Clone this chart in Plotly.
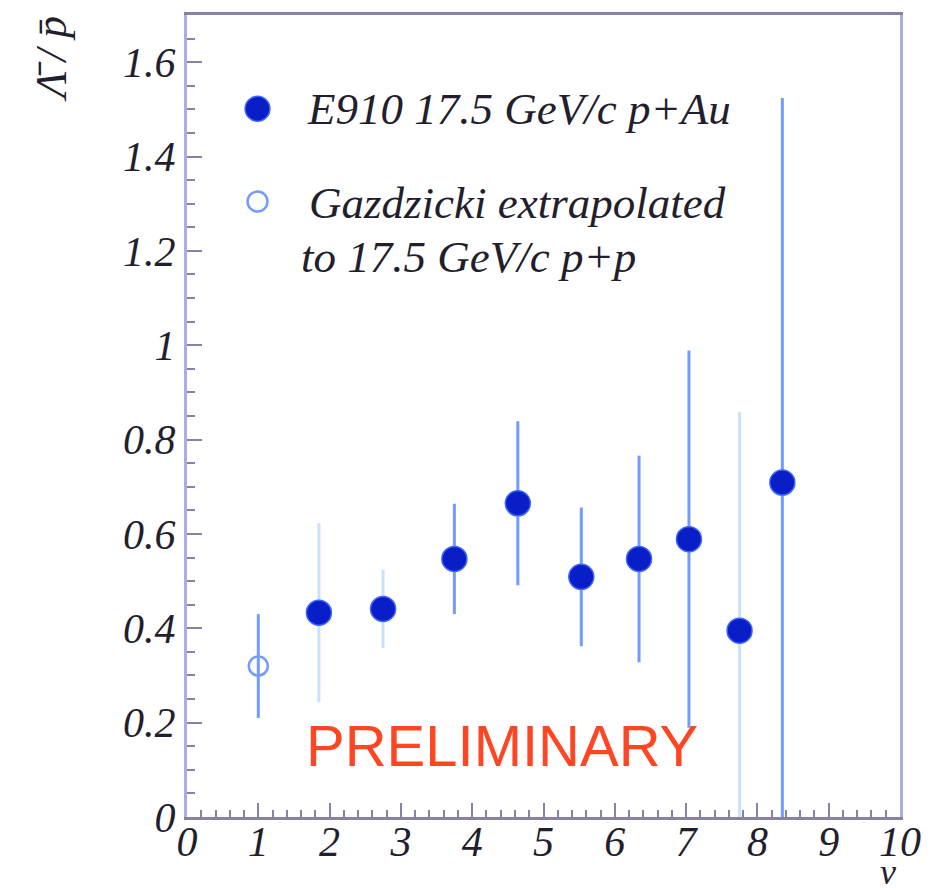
import plotly.graph_objects as go

# Data
nu_pau = [1.85, 2.75, 3.75, 4.64, 5.53, 6.34, 7.04, 7.75, 8.35]
ratio_pau = [0.433, 0.441, 0.547, 0.665, 0.509, 0.547, 0.589, 0.395, 0.709]
err_pau = [0.19, 0.083, 0.117, 0.174, 0.147, 0.219, 0.40, 0.464, 0.815]

nu_pp = [1.0]
ratio_pp = [0.32]
err_pp = [0.11]

x_ticks = list(range(0, 11))
y_ticks = [0, 0.2, 0.4, 0.6, 0.8, 1.0, 1.2, 1.4, 1.6]
y_ticklabels = ["0", "0.2", "0.4", "0.6", "0.8", "1", "1.2", "1.4", "1.6"]

legend_labels = ["E910 17.5 GeV/c p+Au", "Gazdzicki extrapolated<br>to 17.5 GeV/c p+p"]

# ---- styles ----
DARK = "rgb(10,30,200)"
BAR = "rgb(115,155,255)"
BAR_LIGHT = "rgb(200,225,255)"
LIGHT_BAR_POINTS = {0, 1, 7}   # points whose error bars look paler in the reference
AXIS = "rgb(135,130,165)"
SERIF = "Liberation Serif"
TEXT = "rgb(35,30,45)"

fig = go.Figure()

fig.add_trace(go.Scatter(
    x=nu_pp, y=ratio_pp, mode="markers",
    marker=dict(symbol="circle-open", size=19, color=BAR, line=dict(width=2.5, color=BAR)),
    error_y=dict(type="data", array=err_pp, visible=True, color=BAR, thickness=3, width=0),
    showlegend=False,
))

for light in (True, False):
    idx = [i for i in range(len(nu_pau)) if (i in LIGHT_BAR_POINTS) == light]
    fig.add_trace(go.Scatter(
        x=[nu_pau[i] for i in idx], y=[ratio_pau[i] for i in idx], mode="markers",
        marker=dict(symbol="circle", size=25, color=DARK, line=dict(width=1.5, color="rgb(60,100,255)")),
        error_y=dict(type="data", array=[err_pau[i] for i in idx], visible=True,
                     color=BAR_LIGHT if light else BAR, thickness=3, width=0),
        showlegend=False,
    ))

tickfont = dict(family=SERIF, size=42, color=TEXT, style="italic")

fig.update_xaxes(
    range=[0, 10], tickvals=x_ticks, ticktext=[str(v) for v in x_ticks],
    ticks="inside", ticklen=14, tickwidth=2, tickcolor=AXIS,
    minor=dict(dtick=0.2, ticks="inside", ticklen=7, tickwidth=2, tickcolor=AXIS),
    showline=True, linecolor=AXIS, linewidth=3, mirror=True,
    showgrid=False, zeroline=False, tickfont=tickfont, ticklabelstandoff=-14,
)
fig.update_yaxes(
    range=[0, 1.7], tickvals=y_ticks, ticktext=y_ticklabels,
    ticks="inside", ticklen=15, tickwidth=2, tickcolor=AXIS,
    minor=dict(dtick=0.05, ticks="inside", ticklen=8, tickwidth=2, tickcolor=AXIS),
    showline=True, linecolor="rgb(170,175,225)", linewidth=3, mirror=True,
    showgrid=False, zeroline=False, tickfont=tickfont,
)

plot_w = 905 - 187
plot_h = 817 - 13
def px_to_paper(px, py):
    return (px - 187) / plot_w, (817 - py) / plot_h

leg_font = dict(family=SERIF, size=45, color=TEXT, style="italic")
lines2 = legend_labels[1].split("<br>")
annotations = []
for txt, (px, py) in [(legend_labels[0], (308, 107)), (lines2[0], (310, 201)), (lines2[1], (302, 256))]:
    ax, ay = px_to_paper(px, py)
    annotations.append(dict(x=ax, y=ay, xref="paper", yref="paper", text=txt,
                            showarrow=False, xanchor="left", yanchor="middle",
                            xshift=-2, font=leg_font))
ax, ay = px_to_paper(504, 745)
annotations.append(dict(x=ax, y=ay, xref="paper", yref="paper", text="PRELIMINARY",
                        showarrow=False, xanchor="center", yanchor="middle",
                        font=dict(family="Liberation Sans", size=58, color="rgb(255,70,35)")))
ax, ay = px_to_paper(50, 12)
annotations.append(dict(x=ax, y=ay, xref="paper", yref="paper", text="Λ\u0304 / p\u0304",
                        showarrow=False, xanchor="center", yanchor="top", textangle=-90,
                        font=dict(family=SERIF, size=44, color=TEXT, style="italic")))
ax, ay = px_to_paper(893, 872)
annotations.append(dict(x=ax, y=ay, xref="paper", yref="paper", text="ν",
                        showarrow=False, xanchor="center", yanchor="middle",
                        font=dict(family=SERIF, size=36, color=TEXT, style="italic")))
fig.update_layout(annotations=annotations)

# legend symbols
cx, cy = px_to_paper(258, 107)
r_x, r_y = 12.5 / plot_w, 12.5 / plot_h
fig.add_shape(type="circle", xref="paper", yref="paper",
              x0=cx - r_x, x1=cx + r_x, y0=cy - r_y, y1=cy + r_y,
              fillcolor=DARK, line=dict(color="rgb(60,100,255)", width=1.5))
cx, cy = px_to_paper(258, 200)
r_x, r_y = 10 / plot_w, 10 / plot_h
fig.add_shape(type="circle", xref="paper", yref="paper",
              x0=cx - r_x, x1=cx + r_x, y0=cy - r_y, y1=cy + r_y,
              fillcolor="white", line=dict(color=BAR, width=2.5))

fig.update_layout(
    width=933, height=894,
    margin=dict(l=187, r=28, t=13, b=77),
    paper_bgcolor="white", plot_bgcolor="white",
)

fig.write_html("out.html")
